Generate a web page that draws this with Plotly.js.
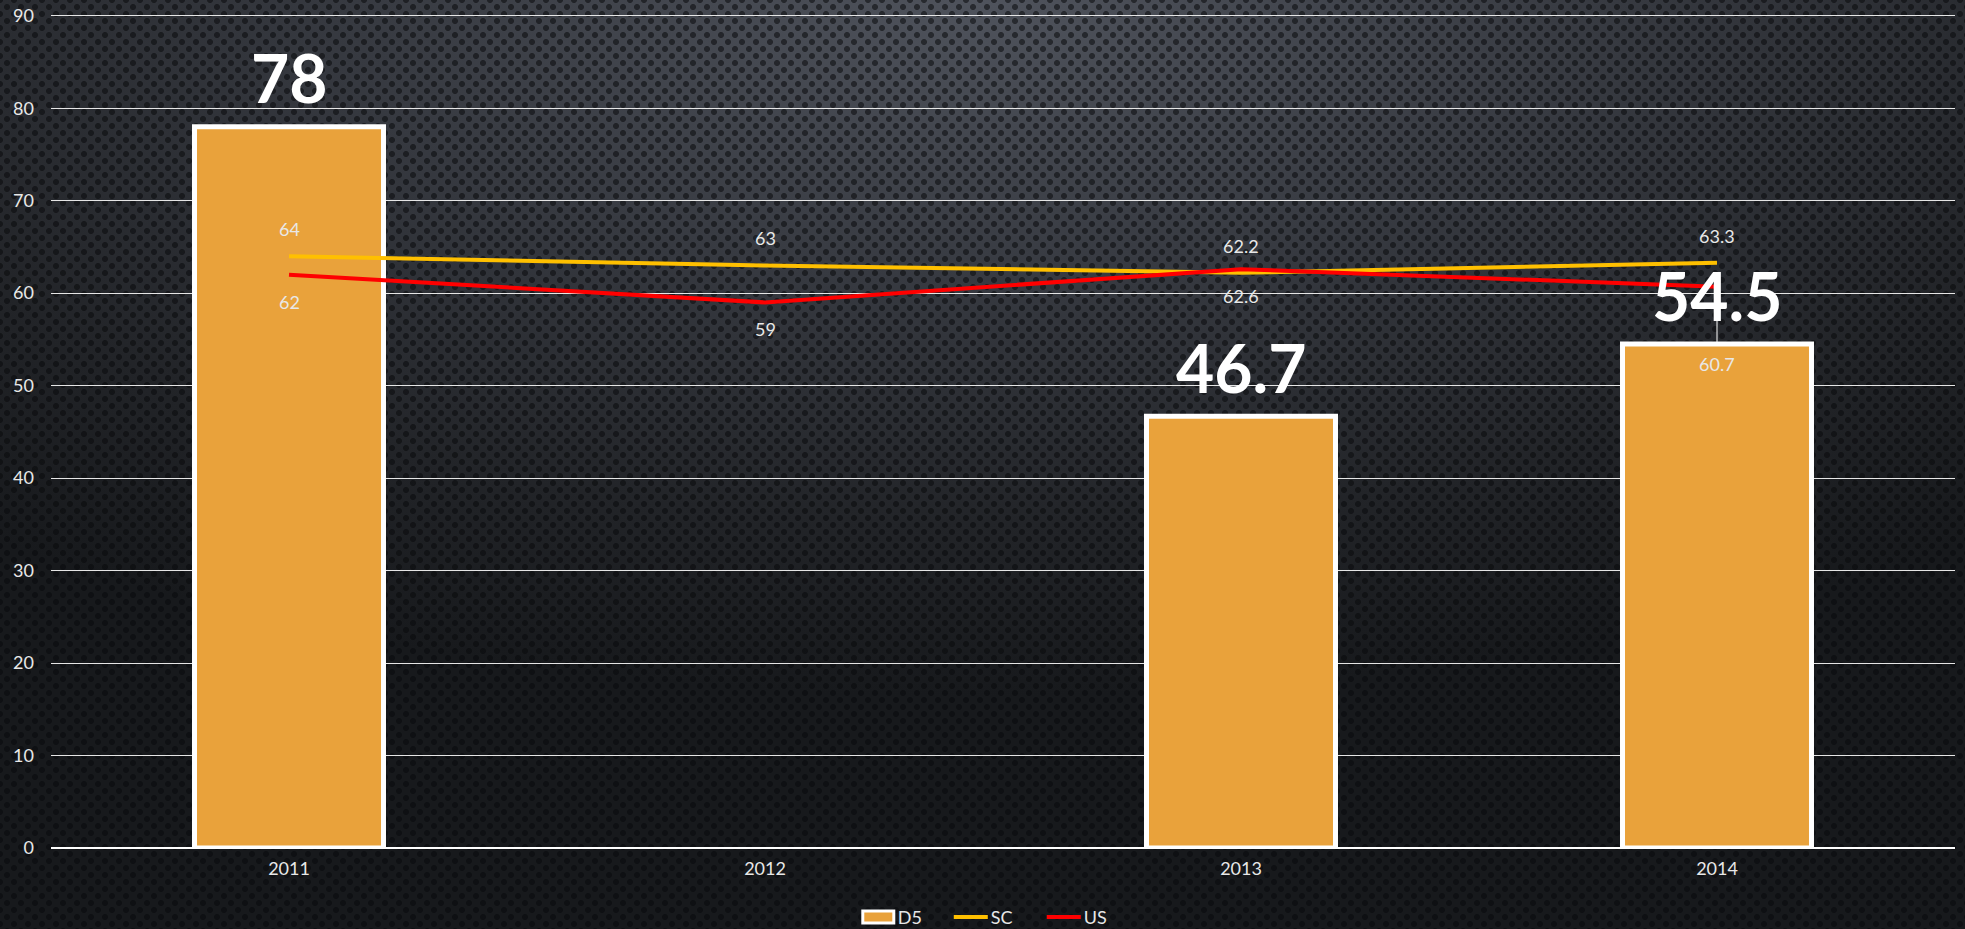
<!DOCTYPE html>
<html>
<head>
<meta charset="utf-8">
<script src="https://cdn.plot.ly/plotly-3.0.1.min.js"></script>
<style>
html, body { margin:0; padding:0; width:1965px; height:929px; overflow:hidden; }
body {
  background-color:#1a1c1f;
  background-image:
    radial-gradient(circle at center, rgba(8,9,11,0.55) 0, rgba(8,9,11,0.55) 2.6px, rgba(0,0,0,0) 3.4px),
    radial-gradient(circle at center, rgba(8,9,11,0.55) 0, rgba(8,9,11,0.55) 2.6px, rgba(0,0,0,0) 3.4px),
    radial-gradient(ellipse 80% 75% at 50% 0%, #4f535c 0%, #373a41 40%, #222428 75%, #17191c 100%);
  background-size: 14px 14px, 14px 14px, 100% 100%;
  background-position: 0 0, 7px 7px, 0 0;
}
#chart { width:1965px; height:929px; }
</style>
</head>
<body>
<div id="chart"></div>
<script>
const categories = ['2011', '2012', '2013', '2014'];
const d5Values = [78, null, 46.7, 54.5];
const scValues = [64, 63, 62.2, 63.3];
const usValues = [62, 59, 62.6, 60.7];
const yTicks = [0, 10, 20, 30, 40, 50, 60, 70, 80, 90];

const FONT = 'Lato, "Noto Sans", sans-serif';
const usLabelShift = [-27, -27, -27, -77];

const traces = [
  {
    type: 'bar', name: 'D5', x: categories, y: d5Values,
    width: 0.397,
    marker: { color: '#E9A23B', line: { color: '#FFFFFF', width: 5 } }
  },
  {
    type: 'scatter', mode: 'lines', name: 'SC', x: categories, y: scValues,
    line: { color: '#FFC000', width: 4 }
  },
  {
    type: 'scatter', mode: 'lines', name: 'US', x: categories, y: usValues,
    line: { color: '#FF0000', width: 4 }
  }
];

// category axis: annotations/shapes positioned by category index
const annotations = [];
for (let i = 0; i < categories.length; i++) {
  if (d5Values[i] !== null) {
    annotations.push({ x: i, y: d5Values[i], text: String(d5Values[i]), showarrow: false,
      yanchor: 'middle', yshift: 49, font: { family: FONT, size: 66, color: '#FFFFFF', weight: 700 } });
  }
  annotations.push({ x: i, y: scValues[i], text: String(scValues[i]), showarrow: false,
    yanchor: 'middle', yshift: 27, font: { family: FONT, size: 18, color: '#E8E8E8' } });
  annotations.push({ x: i, y: usValues[i], text: String(usValues[i]), showarrow: false,
    yanchor: 'middle', yshift: usLabelShift[i], font: { family: FONT, size: 18, color: '#E8E8E8' } });
}

const last = categories.length - 1;
const shapes = [{
  type: 'line', xref: 'x', yref: 'y', layer: 'above',
  x0: last, x1: last, y0: usValues[last], y1: d5Values[last],
  line: { color: '#FFFFFF', width: 1 }
}];

const layout = {
  width: 1965, height: 929,
  margin: { l: 51, r: 10, t: 13, b: 81, autoexpand: false },
  paper_bgcolor: 'rgba(0,0,0,0)',
  plot_bgcolor: 'rgba(0,0,0,0)',
  font: { family: FONT, color: '#E8E8E8', size: 18 },
  showlegend: true,
  legend: {
    orientation: 'h', x: 0.497, xanchor: 'center', y: -0.083, yanchor: 'middle',
    entrywidth: 48, entrywidthmode: 'pixels',
    font: { family: FONT, size: 18, color: '#E8E8E8' },
    bgcolor: 'rgba(0,0,0,0)', traceorder: 'normal'
  },
  xaxis: {
    type: 'category', range: [-0.5, 3.5], showgrid: false, zeroline: false,
    showline: false, ticks: '', ticklabelstandoff: 8,
    tickfont: { family: FONT, size: 18, color: '#E8E8E8' }
  },
  yaxis: {
    range: [0, 90.3], tickvals: yTicks, ticktext: yTicks.map(String),
    showgrid: true, gridcolor: '#E6E6E6', gridwidth: 1,
    zeroline: true, zerolinecolor: '#FFFFFF', zerolinewidth: 2,
    showline: false, ticks: '', ticklabelstandoff: 16,
    tickfont: { family: FONT, size: 18, color: '#E8E8E8' }
  },
  annotations: annotations,
  shapes: shapes,
  bargap: 0.6
};

function restyleLegend() {
  const gd = document.getElementById('chart');
  const items = gd.querySelectorAll('.legend .traces');
  items.forEach(function (it, k) {
    if (k === 0) {
      it.querySelectorAll('.legendpoints path').forEach(function (p) {
        p.setAttribute('d', 'M-15,6H16V-6H-15Z');
        p.style.strokeWidth = '3px';
        p.style.stroke = '#FFFFFF';
        p.style.fill = '#E9A23B';
      });
    } else {
      it.querySelectorAll('.legendlines path').forEach(function (p) {
        p.setAttribute('d', 'M3,0h34');
      });
    }
  });
}

Plotly.newPlot('chart', traces, layout, { displayModeBar: false }).then(function () {
  restyleLegend();
  setTimeout(restyleLegend, 100);
  setTimeout(restyleLegend, 500);
});
</script>
</body>
</html>
